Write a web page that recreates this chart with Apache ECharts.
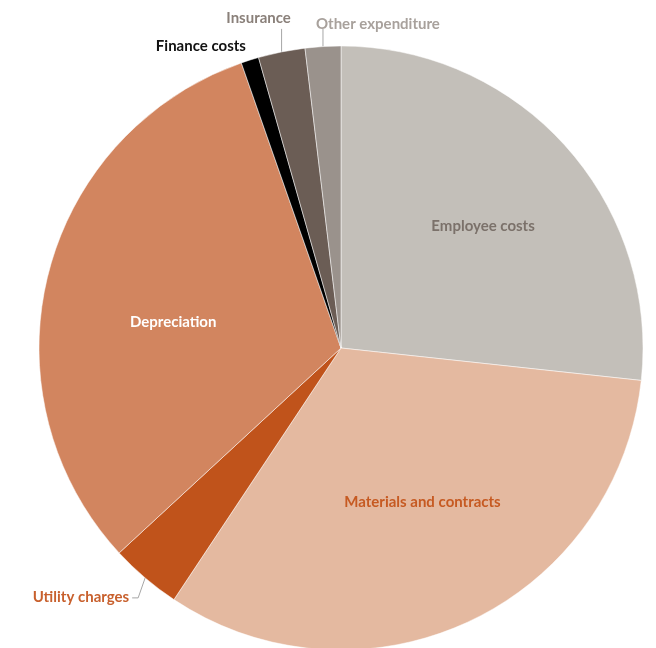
<!DOCTYPE html>
<html>
<head>
<meta charset="utf-8">
<script src="https://cdn.jsdelivr.net/npm/echarts@6/dist/echarts.min.js"></script>
<style>
  html, body { margin: 0; padding: 0; background: #fff; }
  #chart { width: 656px; height: 648px; }
</style>
</head>
<body>
<div id="chart"></div>
<script>
// expenditure split (percent of total)
const categories = ['Employee costs', 'Materials and contracts', 'Utility charges', 'Depreciation',
                    'Finance costs', 'Insurance', 'Other expenditure'];
const values = [26.7, 32.6, 3.8, 31.5, 0.95, 2.5, 1.9];

const sliceColors = ['#c3bfb9', '#e4b9a0', '#c0531b', '#d2855f', '#000000', '#6b5d55', '#9a928c'];
const labelColors = ['#7b716a', '#c65a22', '#c8602d', '#ffffff', '#111111', '#8a807a', '#a8a19c'];
const outsideLabels = ['Utility charges', 'Finance costs', 'Insurance', 'Other expenditure'];

const CX = 341, CY = 348, R = 302;

// small nudges so inside labels sit where Excel's best fit put them
const insideNudge = {
  'Employee costs': [8, -1],
  'Materials and contracts': [5, -9],
  'Depreciation': [7, 18]
};

const chart = echarts.init(document.getElementById('chart'));

const data = categories.map((name, i) => {
  const outside = outsideLabels.indexOf(name) >= 0;
  return {
    name: name,
    value: values[i],
    itemStyle: { color: sliceColors[i] },
    label: { position: outside ? 'outside' : 'inside', color: labelColors[i] },
    labelLine: { show: outside && name !== 'Finance costs' }
  };
});

chart.setOption({
  animation: false,
  series: [{
    type: 'pie',
    center: [CX, CY],
    radius: R,
    startAngle: 90,
    clockwise: true,
    avoidLabelOverlap: false,
    itemStyle: { borderColor: '#ffffff', borderWidth: 0.5 },
    label: {
      fontFamily: 'Lato',
      fontWeight: 'bold',
      fontSize: 15,
      formatter: '{b}'
    },
    labelLine: {
      length: 15,
      length2: 5,
      lineStyle: { color: '#a6a6a6', width: 1 }
    },
    labelLayout: function (params) {
      const name = categories[params.dataIndex];
      if (outsideLabels.indexOf(name) < 0) {
        // push inside labels a bit further out from the centre
        const r = params.labelRect;
        const lx = r.x + r.width / 2, ly = r.y + r.height / 2;
        const n = insideNudge[name] || [0, 0];
        return { dx: (lx - CX) * 0.17 + n[0], dy: (ly - CY) * 0.17 + n[1] };
      }
      const p = params.labelLinePoints[0];
      if (name === 'Finance costs') {
        return { x: p[0] - 4, y: p[1] - 14, align: 'right', verticalAlign: 'middle' };
      }
      if (name === 'Insurance') {
        return { x: p[0] - 23, y: p[1] - 34, align: 'center', verticalAlign: 'middle',
                 labelLinePoints: [p, [p[0], p[1] - 23]] };
      }
      if (name === 'Other expenditure') {
        return { x: p[0] - 7, y: p[1] - 22, align: 'left', verticalAlign: 'middle',
                 labelLinePoints: [p, [p[0], p[1] - 18]] };
      }
      // Utility charges
      return { x: p[0] - 16, y: p[1] + 19, align: 'right', verticalAlign: 'middle',
               labelLinePoints: [p, [p[0] - 7, p[1] + 20], [p[0] - 13, p[1] + 20]] };
    },
    data: data
  }]
});
</script>
</body>
</html>
